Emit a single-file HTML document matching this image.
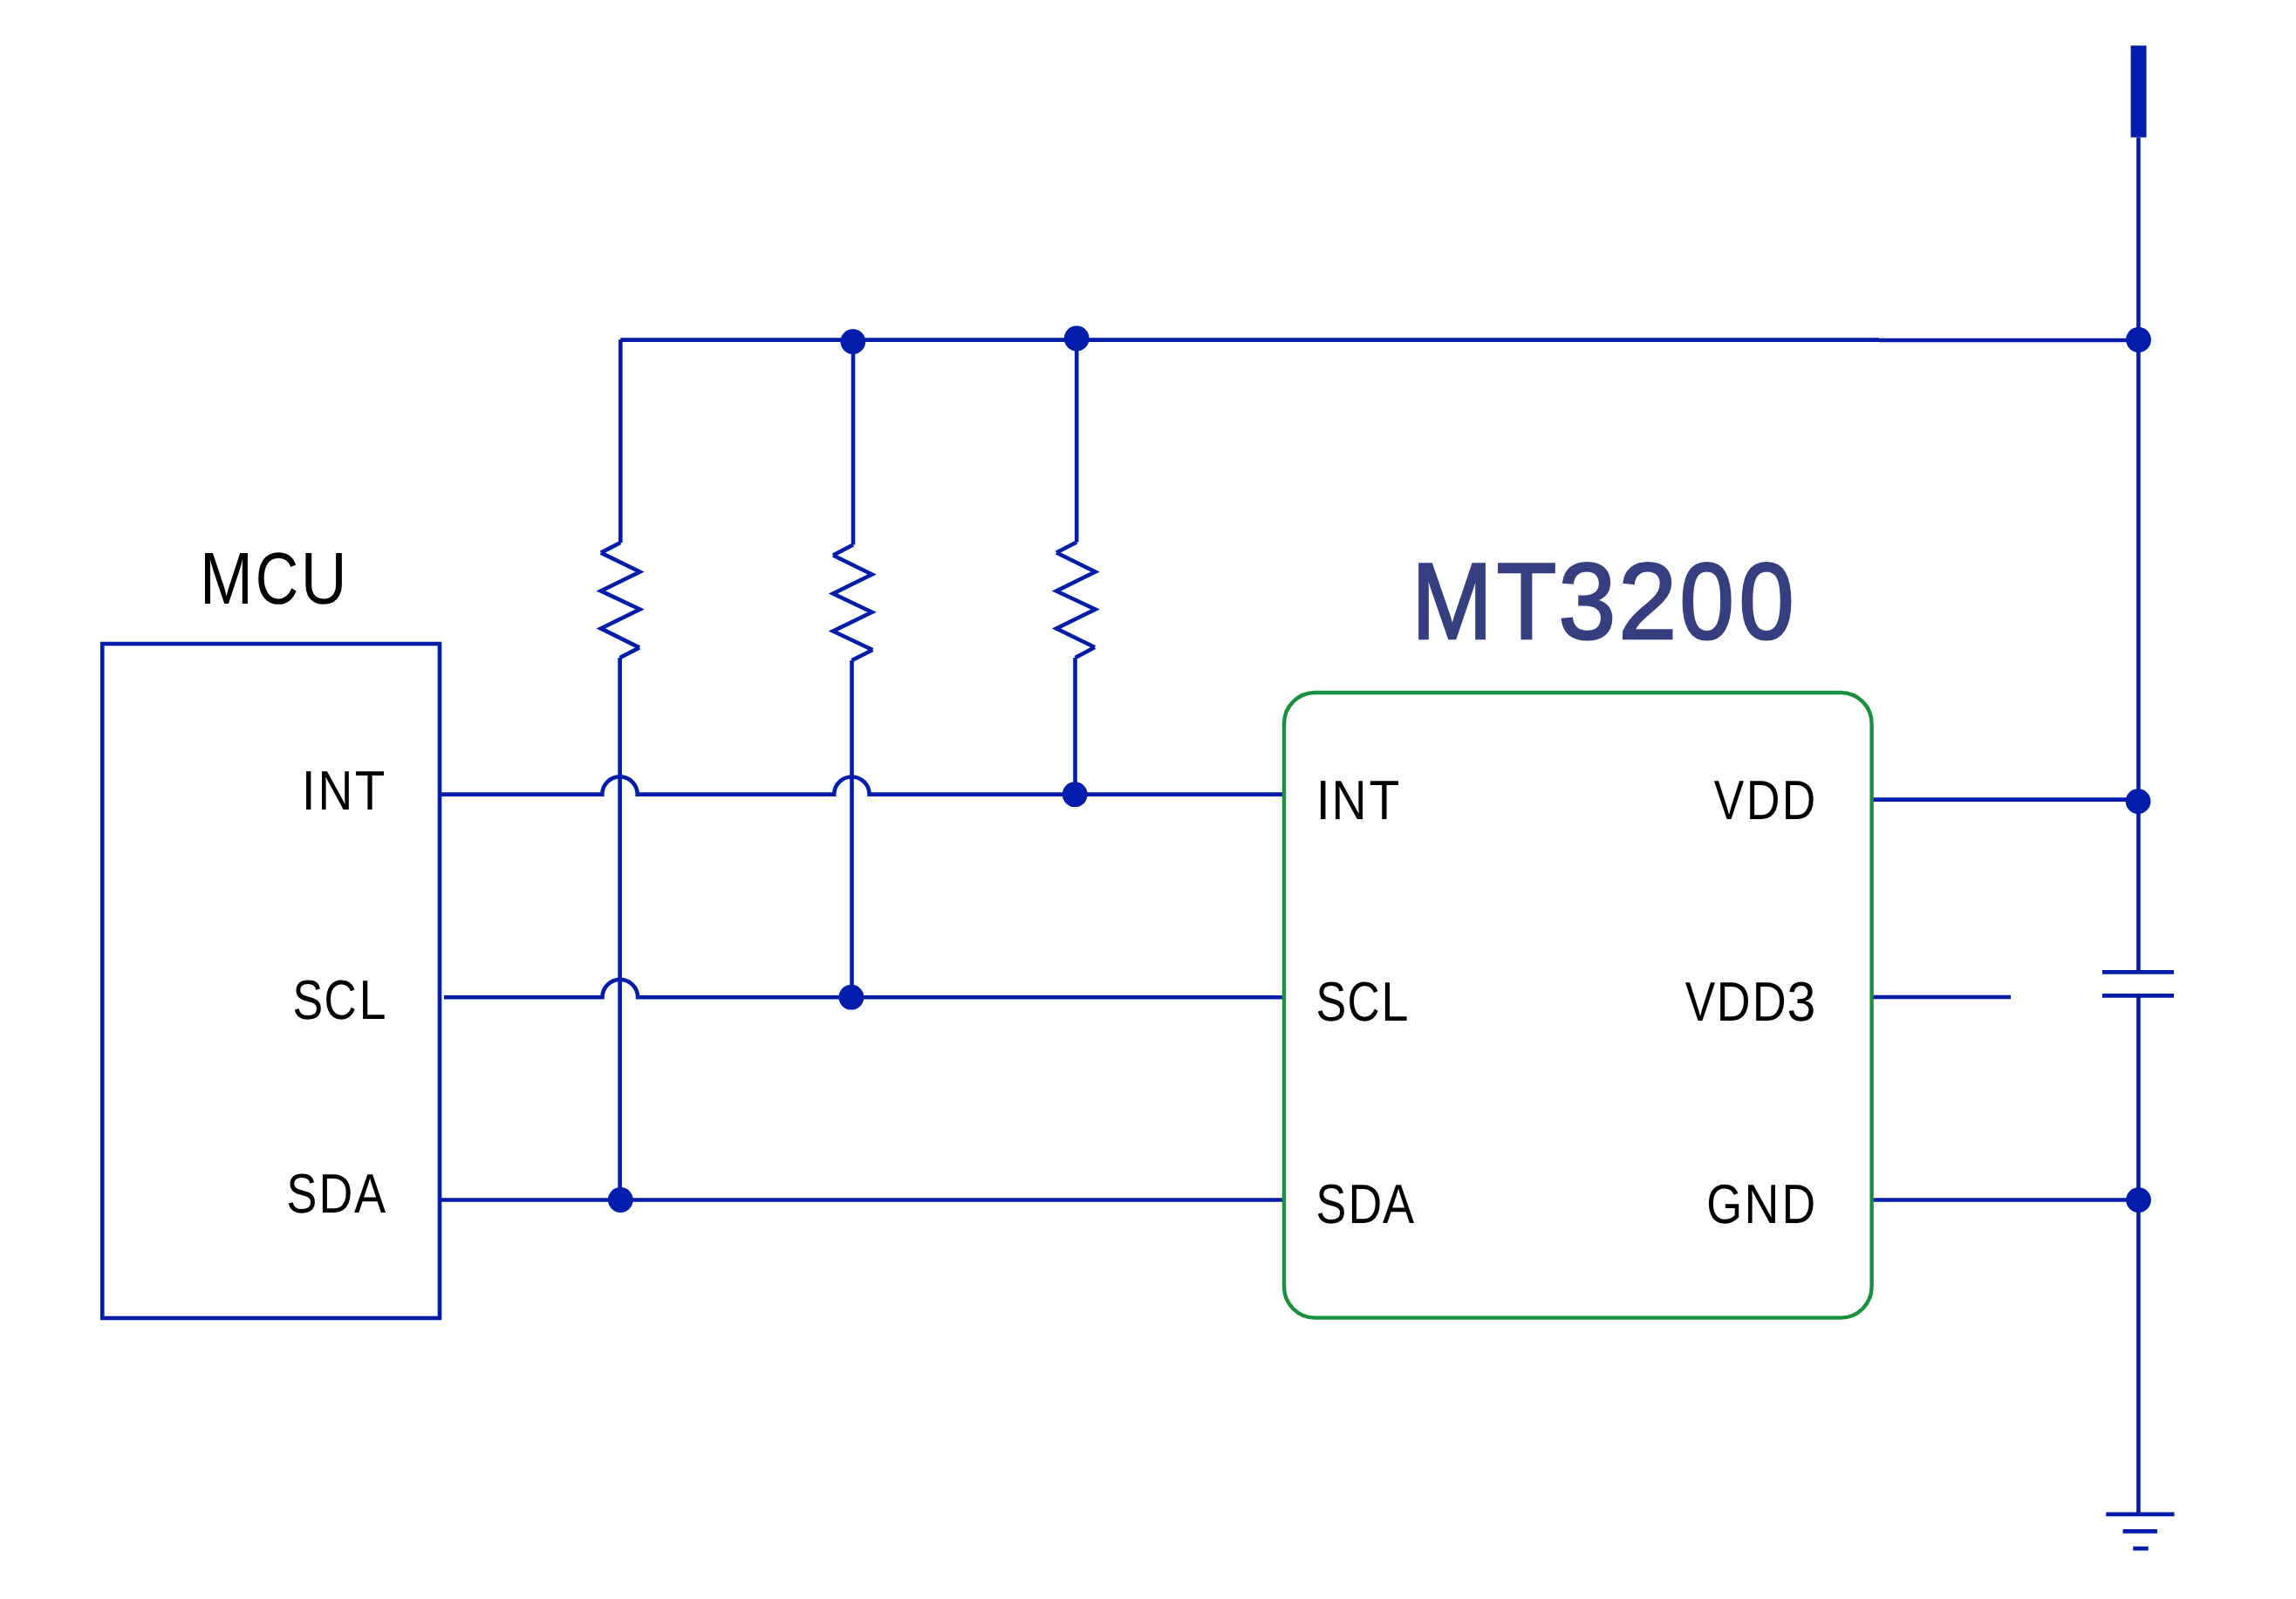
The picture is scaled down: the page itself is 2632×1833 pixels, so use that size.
<!DOCTYPE html>
<html><head><meta charset="utf-8"><title>MT3200 circuit</title>
<style>html,body{margin:0;padding:0;background:#fff;overflow:hidden}svg{display:block}text{font-family:"Liberation Sans",sans-serif;text-rendering:geometricPrecision}</style>
</head><body>
<svg width="2632" height="1833" viewBox="0 0 2632 1833">
<rect width="2632" height="1833" fill="#fff"/>
<rect x="117.3" y="738" width="386.7" height="773" fill="none" stroke="#021CAB" stroke-width="4.6"/>
<path d="M711.3,389.6 H2154 M2154,390 H2451.5" fill="none" stroke="#021CAB" stroke-width="4.6"/>
<path d="M711.3,389.2 V622" fill="none" stroke="#021CAB" stroke-width="4.6"/>
<path d="M711.3,622 L688.8,633.6" fill="none" stroke="#021CAB" stroke-width="4.6"/>
<path d="M688.8,633.6 L733.5,655.5 L688.8,677.4 L733.5,698.5 L688.8,720.4 L733.0,742.4" fill="none" stroke="#021CAB" stroke-width="4.6" stroke-miterlimit="10"/>
<path d="M733.0,742.4 L710.6,754" fill="none" stroke="#021CAB" stroke-width="4.6"/>
<path d="M710.6,754 V1375.5" fill="none" stroke="#021CAB" stroke-width="4.6"/>
<path d="M978,391.6 V624.5" fill="none" stroke="#021CAB" stroke-width="4.6"/>
<path d="M978,624.5 L955,636.5" fill="none" stroke="#021CAB" stroke-width="4.6"/>
<path d="M955,636.5 L999.5,658.5 L955,680.5 L999.5,701.8 L955,723.5 L1000.3,745" fill="none" stroke="#021CAB" stroke-width="4.6" stroke-miterlimit="10"/>
<path d="M1000.3,745 L976.5,757" fill="none" stroke="#021CAB" stroke-width="4.6"/>
<path d="M976.5,757 V1143.2" fill="none" stroke="#021CAB" stroke-width="4.6"/>
<path d="M1234.2,388 V621.5" fill="none" stroke="#021CAB" stroke-width="4.6"/>
<path d="M1234.2,621.5 L1211,633.5" fill="none" stroke="#021CAB" stroke-width="4.6"/>
<path d="M1211,633.5 L1255.5,655.5 L1211,677.5 L1255.5,698.5 L1211,720.5 L1255.0,742" fill="none" stroke="#021CAB" stroke-width="4.6" stroke-miterlimit="10"/>
<path d="M1255.0,742 L1232.5,754" fill="none" stroke="#021CAB" stroke-width="4.6"/>
<path d="M1232.5,754 V910.7" fill="none" stroke="#021CAB" stroke-width="4.6"/>
<path d="M504,910.6 H690.3 A20.2,20.2 0 0 1 730.7,910.6 H956.2 A20.2,20.2 0 0 1 996.6,910.6 H1472" fill="none" stroke="#021CAB" stroke-width="4.6"/>
<path d="M509,1143.2 H690.5 A20.3,20.3 0 0 1 731.1,1143.2 H1472" fill="none" stroke="#021CAB" stroke-width="4.6"/>
<path d="M504,1375.5 H1472" fill="none" stroke="#021CAB" stroke-width="4.6"/>
<path d="M2147,916.6 H2451 M2147,1143 H2305 M2147,1375.5 H2451.5" fill="none" stroke="#021CAB" stroke-width="4.6"/>
<path d="M2451.4,157.5 V1114.4 M2451.4,1141.4 V1736" fill="none" stroke="#021CAB" stroke-width="4.6"/>
<rect x="2442.6" y="52.3" width="17.9" height="105.2" fill="#021CAB"/>
<path d="M2410,1114.4 H2492 M2410,1141.4 H2492" fill="none" stroke="#021CAB" stroke-width="4.8"/>
<path d="M2414.25,1735.9 H2492.5 M2433.6,1755.45 H2472.9 M2445.25,1775 H2462.65" fill="none" stroke="#021CAB" stroke-width="4.75"/>
<circle cx="977.8" cy="391.6" r="14.4" fill="#021CAB"/>
<circle cx="1234.2" cy="388" r="14.4" fill="#021CAB"/>
<circle cx="2451.5" cy="389.5" r="14.4" fill="#021CAB"/>
<circle cx="1232.2" cy="910.7" r="14.4" fill="#021CAB"/>
<circle cx="975.9" cy="1143.2" r="14.4" fill="#021CAB"/>
<circle cx="711.3" cy="1375.5" r="14.4" fill="#021CAB"/>
<circle cx="2451" cy="918.6" r="14.4" fill="#021CAB"/>
<circle cx="2451.5" cy="1375.6" r="14.4" fill="#021CAB"/>
<rect x="1472" y="794" width="673.6" height="716.6" rx="35.5" ry="35.5" fill="none" stroke="#1A903D" stroke-width="4.4"/>
<text transform="translate(229.01,691.90) scale(0.7310,0.8416)" font-size="100" fill="#000">M</text>
<text transform="translate(292.73,691.90) scale(0.6843,0.8416)" font-size="100" fill="#000">C</text>
<text transform="translate(344.76,691.90) scale(0.7308,0.8416)" font-size="100" fill="#000">U</text>
<text transform="translate(345.66,927.87) scale(0.5736,0.6371)" font-size="100" fill="#000">I</text>
<text transform="translate(364.58,927.87) scale(0.5514,0.6371)" font-size="100" fill="#000">N</text>
<text transform="translate(406.63,927.87) scale(0.5650,0.6371)" font-size="100" fill="#000">T</text>
<text transform="translate(335.62,1167.80) scale(0.5197,0.6366)" font-size="100" fill="#000">S</text>
<text transform="translate(371.38,1167.80) scale(0.5152,0.6366)" font-size="100" fill="#000">C</text>
<text transform="translate(411.42,1167.80) scale(0.5579,0.6366)" font-size="100" fill="#000">L</text>
<text transform="translate(328.61,1389.90) scale(0.5215,0.6381)" font-size="100" fill="#000">S</text>
<text transform="translate(365.60,1389.90) scale(0.5369,0.6381)" font-size="100" fill="#000">D</text>
<text transform="translate(405.97,1389.90) scale(0.5421,0.6381)" font-size="100" fill="#000">A</text>
<text transform="translate(1508.56,938.90) scale(0.5897,0.6381)" font-size="100" fill="#000">I</text>
<text transform="translate(1526.45,938.90) scale(0.5549,0.6381)" font-size="100" fill="#000">N</text>
<text transform="translate(1569.42,938.90) scale(0.5695,0.6381)" font-size="100" fill="#000">T</text>
<text transform="translate(1508.61,1169.90) scale(0.5215,0.6381)" font-size="100" fill="#000">S</text>
<text transform="translate(1544.38,1169.90) scale(0.5152,0.6381)" font-size="100" fill="#000">C</text>
<text transform="translate(1583.21,1169.90) scale(0.5602,0.6381)" font-size="100" fill="#000">L</text>
<text transform="translate(1508.61,1401.90) scale(0.5215,0.6381)" font-size="100" fill="#000">S</text>
<text transform="translate(1545.60,1401.90) scale(0.5369,0.6381)" font-size="100" fill="#000">D</text>
<text transform="translate(1585.07,1401.90) scale(0.5406,0.6381)" font-size="100" fill="#000">A</text>
<text transform="translate(1964.85,939.00) scale(0.5172,0.6381)" font-size="100" fill="#000">V</text>
<text transform="translate(2001.70,939.00) scale(0.5369,0.6381)" font-size="100" fill="#000">D</text>
<text transform="translate(2042.73,939.00) scale(0.5335,0.6381)" font-size="100" fill="#000">D</text>
<text transform="translate(1931.85,1169.80) scale(0.5172,0.6381)" font-size="100" fill="#000">V</text>
<text transform="translate(1967.64,1169.80) scale(0.5378,0.6381)" font-size="100" fill="#000">D</text>
<text transform="translate(2008.68,1169.80) scale(0.5386,0.6381)" font-size="100" fill="#000">D</text>
<text transform="translate(2048.43,1169.80) scale(0.5910,0.6381)" font-size="100" fill="#000">3</text>
<text transform="translate(1956.26,1401.70) scale(0.5254,0.6352)" font-size="100" fill="#000">G</text>
<text transform="translate(1999.46,1401.70) scale(0.5531,0.6352)" font-size="100" fill="#000">N</text>
<text transform="translate(2042.51,1401.70) scale(0.5352,0.6352)" font-size="100" fill="#000">D</text>
<text transform="translate(1618.21,731.53) scale(1.1115,1.2423)" font-size="100" fill="#353F80" stroke="#353F80" stroke-width="2.2" stroke-linejoin="miter">M</text>
<text transform="translate(1715.82,731.53) scale(1.1201,1.2423)" font-size="100" fill="#353F80" stroke="#353F80" stroke-width="2.2" stroke-linejoin="miter">T</text>
<text transform="translate(1786.56,731.53) scale(1.1821,1.2423)" font-size="100" fill="#353F80" stroke="#353F80" stroke-width="2.2" stroke-linejoin="miter">3</text>
<text transform="translate(1855.17,731.53) scale(1.2040,1.2423)" font-size="100" fill="#353F80" stroke="#353F80" stroke-width="2.2" stroke-linejoin="miter">2</text>
<text transform="translate(1925.56,731.53) scale(1.1200,1.2423)" font-size="100" fill="#353F80" stroke="#353F80" stroke-width="2.2" stroke-linejoin="miter">0</text>
<text transform="translate(1993.42,731.53) scale(1.1340,1.2423)" font-size="100" fill="#353F80" stroke="#353F80" stroke-width="2.2" stroke-linejoin="miter">0</text>
</svg>
</body></html>
